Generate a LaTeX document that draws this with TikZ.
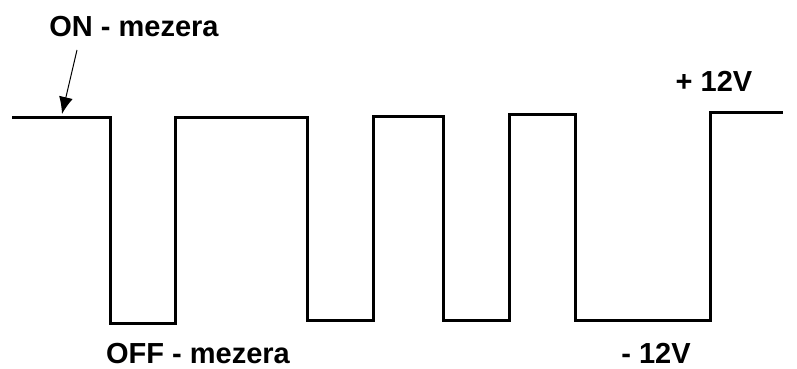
\documentclass[tikz,border=0pt]{standalone}
\usepackage{fontspec}
\setmainfont{Liberation Sans}
\usetikzlibrary{positioning, arrows.meta}

\begin{document}
\begin{tikzpicture}[
    x=1pt, y=-1pt,
    lbl/.style={anchor=base, inner sep=0pt, font=\bfseries\fontsize{29}{35}\selectfont},
    wave/.style={black, line width=3pt, line join=miter},
    arr/.style={-{Latex[length=17pt, width=14pt]}, line width=1pt},
  ]
    \useasboundingbox (0,0) rectangle (797,369);
    % labels
    \node[lbl] (on) at (134,37) {ON - mezera};
    \node[lbl] (off) at (198,363) {OFF - mezera};
    \node[lbl] (plus) at (714,91) {+ 12V};
    \node[lbl] (minus) at (656,363) {- 12V};
    % signal
    \draw[wave] (12,117) -- (110,117) -- (110,323) -- (175,323) -- (175,117)
        -- (307,117) -- (307,320) -- (373,320) -- (373,116) -- (443,116)
        -- (443,320) -- (509,320) -- (509,114) -- (575,114) -- (575,320)
        -- (710,320) -- (710,112) -- (783,112);
    % arrow to the ON level
    \coordinate (onstart) at (77,50);
    \coordinate (ontip) at (62,114);
    \draw[arr] (onstart) -- (ontip);
  \end{tikzpicture}
\end{document}
